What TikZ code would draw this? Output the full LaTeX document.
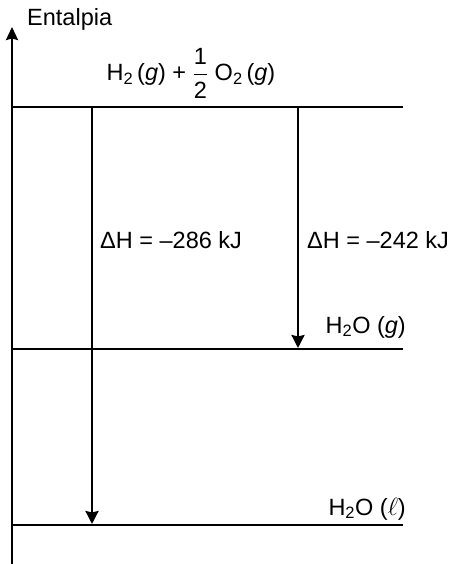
\documentclass[tikz,border=0pt]{standalone}
\usepackage{amsmath}
\usepackage{fontspec}
\setmainfont{Liberation Sans}
\usetikzlibrary{arrows.meta}
\begin{document}
\begin{tikzpicture}[x=1pt,y=-1pt,
  level/.style={line width=2.4pt},
  axisline/.style={line width=2.4pt,-{Stealth[length=13pt,width=12pt,inset=1.5pt]}},
  drop/.style={line width=2.4pt,-{Stealth[length=13pt,width=13pt,inset=1.5pt]}},
  lbl/.style={font=\fontsize{23.5}{27}\selectfont,inner sep=0pt}]
\useasboundingbox (0,0) rectangle (453,564);
% enthalpy axis
\coordinate (ax0) at (12,564);
\coordinate (ax1) at (12,27);
\draw[axisline] (ax0) -- (ax1);
\node[lbl,anchor=west] (ent) at (27,19) {Entalpia};
% levels
\coordinate (l1a) at (12,107); \coordinate (l1b) at (403,107);
\coordinate (l2a) at (12,349); \coordinate (l2b) at (403,349);
\coordinate (l3a) at (12,525); \coordinate (l3b) at (403,525);
\draw[level] (l1a) -- (l1b);
\draw[level] (l2a) -- (l2b);
\draw[level] (l3a) -- (l3b);
% species
\node[lbl] (react) at (191,73) {H\textsubscript{2}\,(\textit{g}) + $\dfrac{\text{1}}{\text{2}}$ O\textsubscript{2}\,(\textit{g})};
\node[lbl,anchor=east] (gas) at (406,327) {H\textsubscript{2}O (\textit{g})};
\node[lbl,anchor=east] (liq) at (406,509) {H\textsubscript{2}O ($\ell$)};
% enthalpy changes
\coordinate (a1s) at (92,107); \coordinate (a1e) at (92,524);
\coordinate (a2s) at (298,107); \coordinate (a2e) at (298,348);
\draw[drop] (a1s) -- (a1e);
\draw[drop] (a2s) -- (a2e);
\node[lbl,anchor=west] (dh1) at (100,240) {ΔH = –286 kJ};
\node[lbl,anchor=west] (dh2) at (307,240) {ΔH = –242 kJ};
\end{tikzpicture}
\end{document}
